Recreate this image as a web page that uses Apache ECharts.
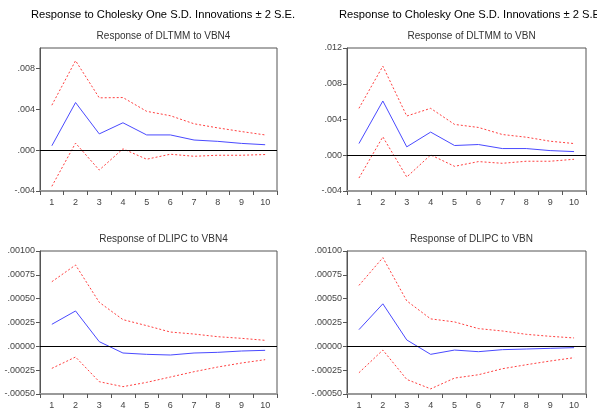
<!DOCTYPE html>
<html>
<head>
<meta charset="utf-8">
<script src="https://cdn.jsdelivr.net/npm/echarts@6/dist/echarts.min.js"></script>
<style>
  html, body { margin: 0; padding: 0; background: #fff; }
  #main { width: 597px; height: 410px; }
</style>
</head>
<body>
<div id="main"></div>
<script>
var periods = ['1', '2', '3', '4', '5', '6', '7', '8', '9', '10'];

// Response of DLTMM to VBN4
var tmmVbn4 = [0.00043, 0.00466, 0.00159, 0.00268, 0.00149, 0.00149, 0.00099, 0.00086, 0.00066, 0.00053];
var tmmVbn4Up = [0.0044, 0.00876, 0.00512, 0.00515, 0.0038, 0.00337, 0.00258, 0.00218, 0.00182, 0.00149];
var tmmVbn4Lo = [-0.00354, 0.00069, -0.00195, 0.00013, -0.00089, -0.0004, -0.0006, -0.0005, -0.0005, -0.00043];

// Response of DLTMM to VBN
var tmmVbn = [0.00131, 0.00607, 0.00094, 0.00259, 0.00109, 0.0012, 0.00075, 0.00075, 0.00052, 0.00041];
var tmmVbnUp = [0.00525, 0.00997, 0.00439, 0.00525, 0.00345, 0.00311, 0.00232, 0.00202, 0.00157, 0.00131];
var tmmVbnLo = [-0.00255, 0.00206, -0.00244, 0.00004, -0.00124, -0.00071, -0.0009, -0.00067, -0.00067, -0.00045];

// Response of DLIPC to VBN4
var ipcVbn4 = [0.000231, 0.000371, 0.000049, -0.00007, -0.000084, -0.000091, -0.00007, -0.000063, -0.000049, -0.000042];
var ipcVbn4Up = [0.000678, 0.000853, 0.000462, 0.00028, 0.000217, 0.00015, 0.000129, 0.000101, 0.000084, 0.000063];
var ipcVbn4Lo = [-0.000231, -0.000112, -0.000371, -0.000423, -0.000378, -0.000322, -0.000266, -0.000217, -0.000175, -0.00014];

// Response of DLIPC to VBN
var ipcVbn = [0.000175, 0.000446, 0.000067, -0.000084, -0.000039, -0.000056, -0.000035, -0.000028, -0.000021, -0.000014];
var ipcVbnUp = [0.000639, 0.00093, 0.000477, 0.000288, 0.000256, 0.000186, 0.000161, 0.000126, 0.000105, 0.000088];
var ipcVbnLo = [-0.000277, -0.000039, -0.000347, -0.000446, -0.000333, -0.000298, -0.000235, -0.000193, -0.000154, -0.000119];

var panels = [
    {title: 'Response of DLTMM to VBN4', mid: tmmVbn4, up: tmmVbn4Up, lo: tmmVbn4Lo, min: -0.004, max: 0.010, step: 0.004, dec: 3},
    {title: 'Response of DLTMM to VBN', mid: tmmVbn, up: tmmVbnUp, lo: tmmVbnLo, min: -0.004, max: 0.012, step: 0.004, dec: 3},
    {title: 'Response of DLIPC to VBN4', mid: ipcVbn4, up: ipcVbn4Up, lo: ipcVbn4Lo, min: -0.0005, max: 0.001, step: 0.00025, dec: 5},
    {title: 'Response of DLIPC to VBN', mid: ipcVbn, up: ipcVbnUp, lo: ipcVbnLo, min: -0.0005, max: 0.001, step: 0.00025, dec: 5}
];

var boxes = [
    {left: 40, top: 48, width: 237, height: 143},
    {left: 347, top: 48, width: 239, height: 143},
    {left: 40, top: 251, width: 237, height: 144},
    {left: 347, top: 251, width: 239, height: 144}
];

function fmt(dec) {
    return function (v) {
        var s = Math.abs(v).toFixed(dec).replace(/^0/, '');
        return (v < -1e-12 ? '-' : '') + s;
    };
}

var font = '"Liberation Sans", Arial, sans-serif';
var titles = [], grids = [], xAxes = [], yAxes = [], series = [];

titles.push({text: 'Response to Cholesky One S.D. Innovations \u00b1 2 S.E.', left: 158, top: 4, textAlign: 'center',
    textStyle: {fontSize: 11.2, fontWeight: 'normal', color: '#000', fontFamily: font}});
titles.push({text: 'Response to Cholesky One S.D. Innovations \u00b1 2 S.E.', left: 466, top: 4, textAlign: 'center',
    textStyle: {fontSize: 11.2, fontWeight: 'normal', color: '#000', fontFamily: font}});

panels.forEach(function (p, i) {
    var b = boxes[i];
    titles.push({text: p.title, left: b.left + b.width / 2, top: b.top - 22, textAlign: 'center',
        textStyle: {fontSize: 10, fontWeight: 'normal', color: '#333', fontFamily: font}});
    grids.push({left: b.left, top: b.top, width: b.width, height: b.height,
        show: true, borderColor: '#555', borderWidth: 1, backgroundColor: 'transparent'});
    xAxes.push({
        type: 'category', gridIndex: i, data: periods, boundaryGap: true,
        axisLine: {onZero: false, lineStyle: {color: '#999', width: 2}},
        axisTick: {show: true, inside: false, length: 4, lineStyle: {color: '#555'}},
        axisLabel: {fontSize: 9, color: '#444', fontFamily: font, margin: 7},
        splitLine: {show: false}
    });
    yAxes.push({
        type: 'value', gridIndex: i, min: p.min, max: p.max, interval: p.step,
        axisLine: {show: true, lineStyle: {color: '#555'}},
        axisTick: {show: true, inside: false, length: 4, lineStyle: {color: '#555'}},
        axisLabel: {fontSize: 9, color: '#444', fontFamily: font, margin: 5, formatter: fmt(p.dec),
            showMaxLabel: i !== 0},
        splitLine: {show: false}
    });
    series.push({
        type: 'line', xAxisIndex: i, yAxisIndex: i, data: p.mid, symbol: 'none',
        lineStyle: {color: '#4a4aff', width: 1},
        markLine: {silent: true, symbol: 'none', label: {show: false},
            lineStyle: {color: '#000', type: 'solid', width: 1}, data: [{yAxis: 0}]},
        z: 3
    });
    series.push({
        type: 'line', xAxisIndex: i, yAxisIndex: i, data: p.up, symbol: 'none',
        lineStyle: {color: '#ff4040', width: 1, type: [2, 2]}
    });
    series.push({
        type: 'line', xAxisIndex: i, yAxisIndex: i, data: p.lo, symbol: 'none',
        lineStyle: {color: '#ff4040', width: 1, type: [2, 2]}
    });
});

var chart = echarts.init(document.getElementById('main'), null, {renderer: 'canvas'});
chart.setOption({
    animation: false,
    backgroundColor: '#fff',
    title: titles,
    grid: grids,
    xAxis: xAxes,
    yAxis: yAxes,
    series: series
});
</script>
</body>
</html>
